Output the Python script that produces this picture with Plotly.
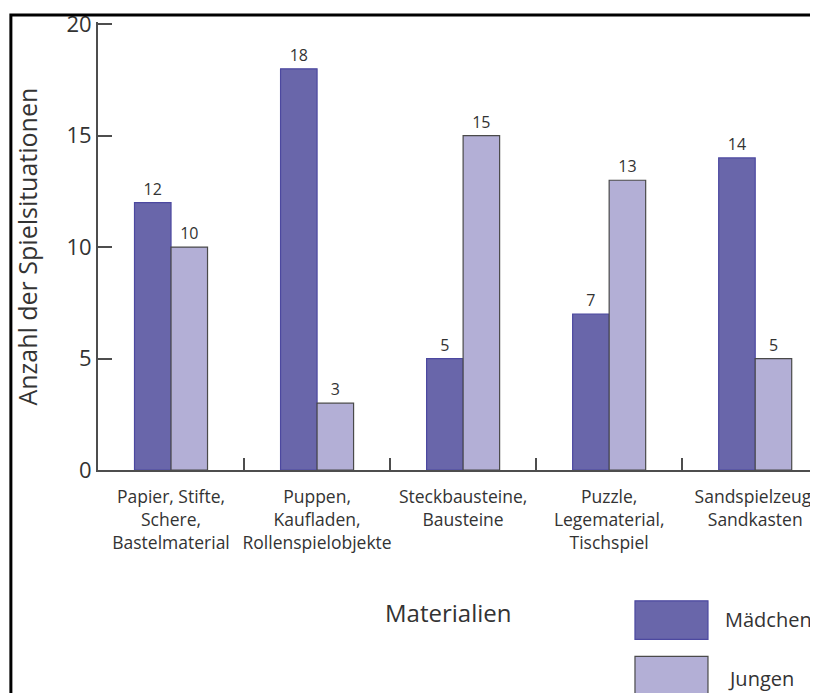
import plotly.graph_objects as go

categories = [
    "Papier, Stifte,<br>Schere,<br>Bastelmaterial",
    "Puppen,<br>Kaufladen,<br>Rollenspielobjekte",
    "Steckbausteine,<br>Bausteine",
    "Puzzle,<br>Legematerial,<br>Tischspiel",
    "Sandspielzeug,<br>Sandkasten",
]
maedchen = [12, 18, 5, 7, 14]
jungen = [10, 3, 15, 13, 5]
y_ticks = [0, 5, 10, 15, 20]

FONT = "Open Sans"
C_M = "#6966aa"
C_M_LINE = "#4c48a0"
C_J = "#b3afd6"
C_J_LINE = "#4a4a4a"
AXIS = "#4d4d4d"
TXT = "#333333"

fig = go.Figure()
fig.add_trace(go.Bar(
    x=categories, y=maedchen, name="Mädchen",
    marker=dict(color=C_M, line=dict(color=C_M_LINE, width=1.2)),
    text=maedchen, textposition="outside",
    textfont=dict(family=FONT, size=16, color=TXT), cliponaxis=False,
))
fig.add_trace(go.Bar(
    x=categories, y=jungen, name="Jungen",
    marker=dict(color=C_J, line=dict(color=C_J_LINE, width=1.2)),
    text=jungen, textposition="outside",
    textfont=dict(family=FONT, size=16, color=TXT), cliponaxis=False,
))

fig.update_layout(
    width=810, height=693,
    margin=dict(l=90, r=0, t=10, b=231),
    paper_bgcolor="white", plot_bgcolor="white",
    barmode="group", bargap=0.5, bargroupgap=0,
    showlegend=False,
    font=dict(family=FONT, color=TXT),
    xaxis=dict(
        range=[-0.5, 4.43], showgrid=False, zeroline=False,
        showline=True, linecolor=AXIS, linewidth=2,
        ticks="inside", tickson="boundaries", ticklen=12, tickwidth=2, tickcolor=AXIS,
        tickfont=dict(family=FONT, size=17.5, color=TXT),
        tickangle=0, ticklabelstandoff=10, ticklabeloverflow="allow",
    ),
    yaxis=dict(
        range=[0, 20.1], tickvals=y_ticks, showgrid=False, zeroline=False,
        showline=True, linecolor=AXIS, linewidth=2,
        ticks="inside", ticklen=14, tickwidth=2, tickcolor=AXIS,
        tickfont=dict(family=FONT, size=22, color=TXT),
        ticklabeloverflow="allow",
    ),
)

# frame
fig.add_shape(type="rect", xref="paper", yref="paper",
              x0=-0.121, x1=1.2, y0=-0.7, y1=1.0155,
              line=dict(color="black", width=3), layer="above")

# axis titles
fig.add_annotation(xref="paper", yref="paper", x=-0.099, y=0.498,
                   text="Anzahl der Spielsituationen", textangle=-90,
                   showarrow=False, xanchor="center", yanchor="middle",
                   font=dict(family=FONT, size=25, color=TXT))
fig.add_annotation(xref="paper", yref="paper", x=0.486, y=-0.3186,
                   text="Materialien", showarrow=False,
                   xanchor="center", yanchor="middle",
                   font=dict(family=FONT, size=24, color=TXT))

# legend swatches
fig.add_shape(type="rect", xref="paper", yref="paper",
              x0=0.7458, x1=0.8472, y0=-0.378, y1=-0.292,
              fillcolor=C_M, line=dict(color=C_M_LINE, width=1.2))
fig.add_shape(type="rect", xref="paper", yref="paper",
              x0=0.7458, x1=0.8472, y0=-0.502, y1=-0.416,
              fillcolor=C_J, line=dict(color=C_J_LINE, width=1.2))
fig.add_annotation(xref="paper", yref="paper", x=0.868, y=-0.334,
                   text="Mädchen", showarrow=False, xanchor="left", yanchor="middle",
                   font=dict(family=FONT, size=20, color=TXT))
fig.add_annotation(xref="paper", yref="paper", x=0.872, y=-0.4646,
                   text="Jungen", showarrow=False, xanchor="left", yanchor="middle",
                   font=dict(family=FONT, size=20, color=TXT))

fig.write_html("out.html")
